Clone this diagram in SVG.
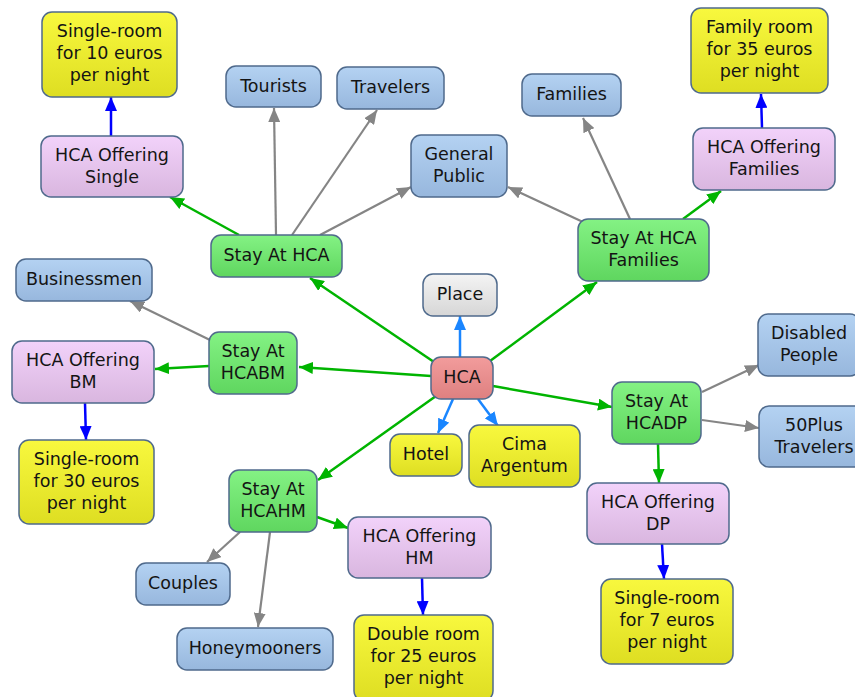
<svg xmlns="http://www.w3.org/2000/svg" width="855" height="697" viewBox="0 0 855 697">
  <defs>
    <linearGradient id="gYellow" x1="0" y1="0" x2="0" y2="1">
      <stop offset="0" stop-color="#f8f83e"/>
      <stop offset="1" stop-color="#dede22"/>
    </linearGradient>
    <linearGradient id="gBlue" x1="0" y1="0" x2="0" y2="1">
      <stop offset="0" stop-color="#b4d2f2"/>
      <stop offset="1" stop-color="#97b7dd"/>
    </linearGradient>
    <linearGradient id="gPurple" x1="0" y1="0" x2="0" y2="1">
      <stop offset="0" stop-color="#f2d2fa"/>
      <stop offset="1" stop-color="#d9b6df"/>
    </linearGradient>
    <linearGradient id="gGreen" x1="0" y1="0" x2="0" y2="1">
      <stop offset="0" stop-color="#84f284"/>
      <stop offset="1" stop-color="#5fd65f"/>
    </linearGradient>
    <linearGradient id="gRed" x1="0" y1="0" x2="0" y2="1">
      <stop offset="0" stop-color="#f29c9c"/>
      <stop offset="1" stop-color="#de8080"/>
    </linearGradient>
    <linearGradient id="gGray" x1="0" y1="0" x2="0" y2="1">
      <stop offset="0" stop-color="#f4f4f4"/>
      <stop offset="1" stop-color="#d6d6d6"/>
    </linearGradient>
    <marker id="aGreen" viewBox="0 0 14 12" refX="14" refY="6" markerWidth="14" markerHeight="12" markerUnits="userSpaceOnUse" orient="auto">
      <path d="M0,0 L14,6 L0,12 z" fill="#00b400"/>
    </marker>
    <marker id="aGray" viewBox="0 0 14 12" refX="14" refY="6" markerWidth="14" markerHeight="12" markerUnits="userSpaceOnUse" orient="auto">
      <path d="M0,0 L14,6 L0,12 z" fill="#858585"/>
    </marker>
    <marker id="aBlue" viewBox="0 0 14 12" refX="14" refY="6" markerWidth="14" markerHeight="12" markerUnits="userSpaceOnUse" orient="auto">
      <path d="M0,0 L14,6 L0,12 z" fill="#0000ff"/>
    </marker>
    <marker id="aSky" viewBox="0 0 14 12" refX="14" refY="6" markerWidth="14" markerHeight="12" markerUnits="userSpaceOnUse" orient="auto">
      <path d="M0,0 L14,6 L0,12 z" fill="#1a86ff"/>
    </marker>
  </defs>
  <style>
    rect.n { stroke: #4f6a8c; stroke-width: 1.5; }
    .yellow { fill: url(#gYellow); }
    .blue { fill: url(#gBlue); }
    .purple { fill: url(#gPurple); }
    .green { fill: url(#gGreen); }
    .red { fill: url(#gRed); }
    .gray { fill: url(#gGray); }
    text { font-family: "DejaVu Sans", Verdana, sans-serif; font-size: 17.5px; fill: #141414; text-anchor: middle; }
    line.g { stroke: #00b400; stroke-width: 2.5; marker-end: url(#aGreen); }
    line.k { stroke: #858585; stroke-width: 2.2; marker-end: url(#aGray); }
    line.b { stroke: #0000ff; stroke-width: 2.5; marker-end: url(#aBlue); }
    line.s { stroke: #1a86ff; stroke-width: 2.5; marker-end: url(#aSky); }
  </style>
  <rect width="855" height="697" fill="#ffffff"/>

  <g id="connectors">
    <!-- HCA outward -->
    <line class="s" x1="460" y1="357" x2="460" y2="316"/>
    <line class="s" x1="453" y1="399" x2="438" y2="433"/>
    <line class="s" x1="478" y1="399" x2="498" y2="426"/>
    <line class="g" x1="434" y1="362" x2="310" y2="278"/>
    <line class="g" x1="431" y1="376" x2="299" y2="367"/>
    <line class="g" x1="436" y1="396" x2="318" y2="480"/>
    <line class="g" x1="490" y1="361" x2="597" y2="282"/>
    <line class="g" x1="493" y1="386" x2="612" y2="407"/>
    <!-- Stay At HCA -->
    <line class="g" x1="239" y1="235" x2="170" y2="197"/>
    <line class="k" x1="276" y1="235" x2="274" y2="108"/>
    <line class="k" x1="292" y1="235" x2="377" y2="110"/>
    <line class="k" x1="320" y1="235" x2="411" y2="187"/>
    <line class="b" x1="111" y1="136" x2="111" y2="97"/>
    <!-- Stay At HCA Families -->
    <line class="k" x1="583" y1="222" x2="508" y2="187"/>
    <line class="k" x1="630" y1="219" x2="583" y2="118"/>
    <line class="g" x1="683" y1="219" x2="721" y2="191"/>
    <line class="b" x1="762" y1="128" x2="761" y2="94"/>
    <!-- Stay At HCABM -->
    <line class="k" x1="210" y1="340" x2="130" y2="301"/>
    <line class="g" x1="209" y1="366" x2="155" y2="369"/>
    <line class="b" x1="85" y1="403" x2="86" y2="440"/>
    <!-- Stay At HCAHM -->
    <line class="g" x1="317" y1="517" x2="348" y2="528"/>
    <line class="k" x1="240" y1="532" x2="207" y2="562"/>
    <line class="k" x1="270" y1="532" x2="258" y2="627"/>
    <line class="b" x1="422" y1="578" x2="423" y2="615"/>
    <!-- Stay At HCADP -->
    <line class="k" x1="702" y1="392" x2="759" y2="365"/>
    <line class="k" x1="702" y1="420" x2="759" y2="428"/>
    <line class="g" x1="658" y1="444" x2="659" y2="483"/>
    <line class="b" x1="662" y1="544" x2="664" y2="579"/>
  </g>

  <g id="n-single10"><rect class="n yellow" x="42" y="12" width="135" height="85" rx="10"/>
    <text x="109.5" y="37">Single-room</text><text x="109.5" y="59">for 10 euros</text><text x="109.5" y="81">per night</text></g>
  <g id="n-tourists"><rect class="n blue" x="226" y="66" width="95" height="41" rx="10"/>
    <text x="273.5" y="91.5">Tourists</text></g>
  <g id="n-travelers"><rect class="n blue" x="337" y="67" width="107" height="42" rx="10"/>
    <text x="390.5" y="93">Travelers</text></g>
  <g id="n-offer-single"><rect class="n purple" x="41" y="136" width="142" height="61" rx="10"/>
    <text x="112" y="160.5">HCA Offering</text><text x="112" y="182.5">Single</text></g>
  <g id="n-general"><rect class="n blue" x="411" y="135" width="96" height="62" rx="10"/>
    <text x="459" y="160">General</text><text x="459" y="182">Public</text></g>
  <g id="n-families"><rect class="n blue" x="522" y="74" width="99" height="42" rx="10"/>
    <text x="571.5" y="100">Families</text></g>
  <g id="n-familyroom"><rect class="n yellow" x="691" y="8" width="137" height="85" rx="10"/>
    <text x="759.5" y="33">Family room</text><text x="759.5" y="55">for 35 euros</text><text x="759.5" y="77">per night</text></g>
  <g id="n-offer-families"><rect class="n purple" x="693" y="128" width="142" height="62" rx="10"/>
    <text x="764" y="153">HCA Offering</text><text x="764" y="175">Families</text></g>
  <g id="n-stay"><rect class="n green" x="211" y="235" width="131" height="42" rx="10"/>
    <text x="276.5" y="261">Stay At HCA</text></g>
  <g id="n-stay-families"><rect class="n green" x="578" y="219" width="131" height="62" rx="10"/>
    <text x="643.5" y="244">Stay At HCA</text><text x="643.5" y="266">Families</text></g>
  <g id="n-place"><rect class="n gray" x="423" y="274" width="74" height="42" rx="10"/>
    <text x="460" y="300">Place</text></g>
  <g id="n-businessmen"><rect class="n blue" x="16" y="259" width="136" height="42" rx="10"/>
    <text x="84" y="285">Businessmen</text></g>
  <g id="n-offer-bm"><rect class="n purple" x="12" y="341" width="142" height="62" rx="10"/>
    <text x="83" y="366">HCA Offering</text><text x="83" y="388">BM</text></g>
  <g id="n-stay-bm"><rect class="n green" x="209" y="332" width="88" height="62" rx="10"/>
    <text x="253" y="357">Stay At</text><text x="253" y="379">HCABM</text></g>
  <g id="n-hca"><rect class="n red" x="431" y="357" width="62" height="42" rx="10"/>
    <text x="462" y="383">HCA</text></g>
  <g id="n-disabled"><rect class="n blue" x="758" y="314" width="102" height="62" rx="10"/>
    <text x="809" y="339">Disabled</text><text x="809" y="361">People</text></g>
  <g id="n-stay-dp"><rect class="n green" x="612" y="382" width="89" height="62" rx="10"/>
    <text x="656.5" y="407">Stay At</text><text x="656.5" y="429">HCADP</text></g>
  <g id="n-50plus"><rect class="n blue" x="759" y="406" width="110" height="61" rx="10"/>
    <text x="814" y="430.5">50Plus</text><text x="814" y="452.5">Travelers</text></g>
  <g id="n-hotel"><rect class="n yellow" x="390" y="434" width="72" height="42" rx="10"/>
    <text x="426" y="460">Hotel</text></g>
  <g id="n-cima"><rect class="n yellow" x="469" y="425" width="111" height="62" rx="10"/>
    <text x="524.5" y="450">Cima</text><text x="524.5" y="472">Argentum</text></g>
  <g id="n-single30"><rect class="n yellow" x="19" y="440" width="135" height="84" rx="10"/>
    <text x="86.5" y="464.5">Single-room</text><text x="86.5" y="486.5">for 30 euros</text><text x="86.5" y="508.5">per night</text></g>
  <g id="n-stay-hm"><rect class="n green" x="229" y="470" width="88" height="62" rx="10"/>
    <text x="273" y="495">Stay At</text><text x="273" y="517">HCAHM</text></g>
  <g id="n-offer-hm"><rect class="n purple" x="348" y="517" width="143" height="61" rx="10"/>
    <text x="419.5" y="541.5">HCA Offering</text><text x="419.5" y="563.5">HM</text></g>
  <g id="n-offer-dp"><rect class="n purple" x="587" y="483" width="142" height="61" rx="10"/>
    <text x="658" y="507.5">HCA Offering</text><text x="658" y="529.5">DP</text></g>
  <g id="n-couples"><rect class="n blue" x="136" y="563" width="94" height="42" rx="10"/>
    <text x="183" y="589">Couples</text></g>
  <g id="n-honeymooners"><rect class="n blue" x="177" y="628" width="156" height="42" rx="10"/>
    <text x="255" y="654">Honeymooners</text></g>
  <g id="n-double"><rect class="n yellow" x="354" y="615" width="139" height="86" rx="10"/>
    <text x="423.5" y="639.5">Double room</text><text x="423.5" y="661.5">for 25 euros</text><text x="423.5" y="683.5">per night</text></g>
  <g id="n-single7"><rect class="n yellow" x="601" y="579" width="132" height="85" rx="10"/>
    <text x="667" y="604">Single-room</text><text x="667" y="626">for 7 euros</text><text x="667" y="648">per night</text></g>
</svg>
